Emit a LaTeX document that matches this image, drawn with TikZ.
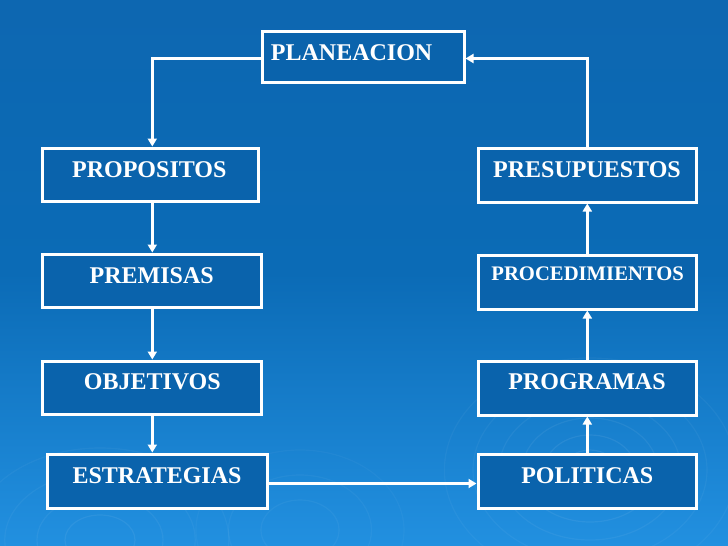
\documentclass[tikz,border=0pt]{standalone}
\usepackage{fontspec}
\setmainfont{Liberation Serif}
\usetikzlibrary{arrows.meta}
\definecolor{bgtop}{HTML}{0D67B1}
\definecolor{bgmid}{HTML}{0B6BB6}
\definecolor{bgbot}{HTML}{2290E0}
\definecolor{boxfill}{HTML}{0A63AC}
\def\px{0.75pt}
\begin{document}
\begin{tikzpicture}[x=0.75pt,y=-0.75pt,
  boxnode/.style={draw=white, line width=3*\px, fill=boxfill, rectangle, inner sep=0pt},
  lbl/.style={text=white, font=\bfseries\fontsize{18}{20}\selectfont, anchor=base, inner sep=0pt},
  lblsmall/.style={text=white, font=\bfseries\fontsize{15.5}{17}\selectfont, anchor=base, inner sep=0pt},
  conn/.style={draw=white, line width=2.4*\px},
  arr/.style={conn, -{Triangle[length=8*\px, width=9*\px]}}
]
\useasboundingbox (0,0) rectangle (728,546);
% background
\shade[top color=bgtop, bottom color=bgbot, middle color=bgmid] (0,0) rectangle (728,546);
% faint ripples
\begin{scope}[draw=white, line width=1.2*\px]
  \foreach \r/\o in {20/0.07,35/0.065,52/0.06,70/0.05,90/0.045,112/0.04}{
    \draw[opacity=\o] (590,470) ellipse ({\r*1.3} and \r);
  }
  \foreach \r/\o in {25/0.06,45/0.05,68/0.045,92/0.04}{
    \draw[opacity=\o] (100,540) ellipse ({\r*1.4} and \r);
  }
  \foreach \r/\o in {30/0.045,55/0.04,80/0.03}{
    \draw[opacity=\o] (300,530) ellipse ({\r*1.3} and \r);
  }
\end{scope}
% helper coordinates
\coordinate (lx) at (152.3,0);
\coordinate (rx) at (587.3,0);
\coordinate (ty) at (0,58.5);
\coordinate (hy) at (0,483.5);
% boxes
\node[boxnode, minimum width=202*\px, minimum height=51*\px] (plan) at (363,56.5) {};
\node[boxnode, minimum width=216*\px, minimum height=53*\px] (prop) at (150,174.5) {};
\node[boxnode, minimum width=219*\px, minimum height=53*\px] (prem) at (151.5,280.5) {};
\node[boxnode, minimum width=219*\px, minimum height=53*\px] (obj) at (151.5,387.5) {};
\node[boxnode, minimum width=220*\px, minimum height=54*\px] (estr) at (157,481) {};
\node[boxnode, minimum width=218*\px, minimum height=54*\px] (pres) at (587,175) {};
\node[boxnode, minimum width=218*\px, minimum height=54*\px] (proc) at (587,282) {};
\node[boxnode, minimum width=218*\px, minimum height=54*\px] (progr) at (587,388) {};
\node[boxnode, minimum width=218*\px, minimum height=54*\px] (pol) at (587,481) {};
% labels
\node[lbl, anchor=base west] (plant) at (270.7,60) {PLANEACION};
\node[lbl] (propt) at (149.3,177.6) {PROPOSITOS};
\node[lbl] (premt) at (151.7,283) {PREMISAS};
\node[lbl] (objt) at (152.3,389) {OBJETIVOS};
\node[lbl] (estrt) at (157,483) {ESTRATEGIAS};
\node[lbl] (prest) at (587,177.6) {PRESUPUESTOS};
\node[lblsmall] (proct) at (587.7,280) {PROCEDIMIENTOS};
\node[lbl] (progrt) at (587,389) {PROGRAMAS};
\node[lbl] (polt) at (587.3,483) {POLITICAS};
% connectors
\draw[arr] (plan.west |- ty) -| (prop.north -| lx);
\draw[arr] (pres.north -| rx) |- (plan.east |- ty);
\draw[arr] (prop.south -| lx) -- (prem.north -| lx);
\draw[arr] (prem.south -| lx) -- (obj.north -| lx);
\draw[arr] (obj.south -| lx) -- (estr.north -| lx);
\draw[arr] (estr.east |- hy) -- (pol.west |- hy);
\draw[arr] (pol.north -| rx) -- (progr.south -| rx);
\draw[arr] (progr.north -| rx) -- (proc.south -| rx);
\draw[arr] (proc.north -| rx) -- (pres.south -| rx);
\end{tikzpicture}
\end{document}
